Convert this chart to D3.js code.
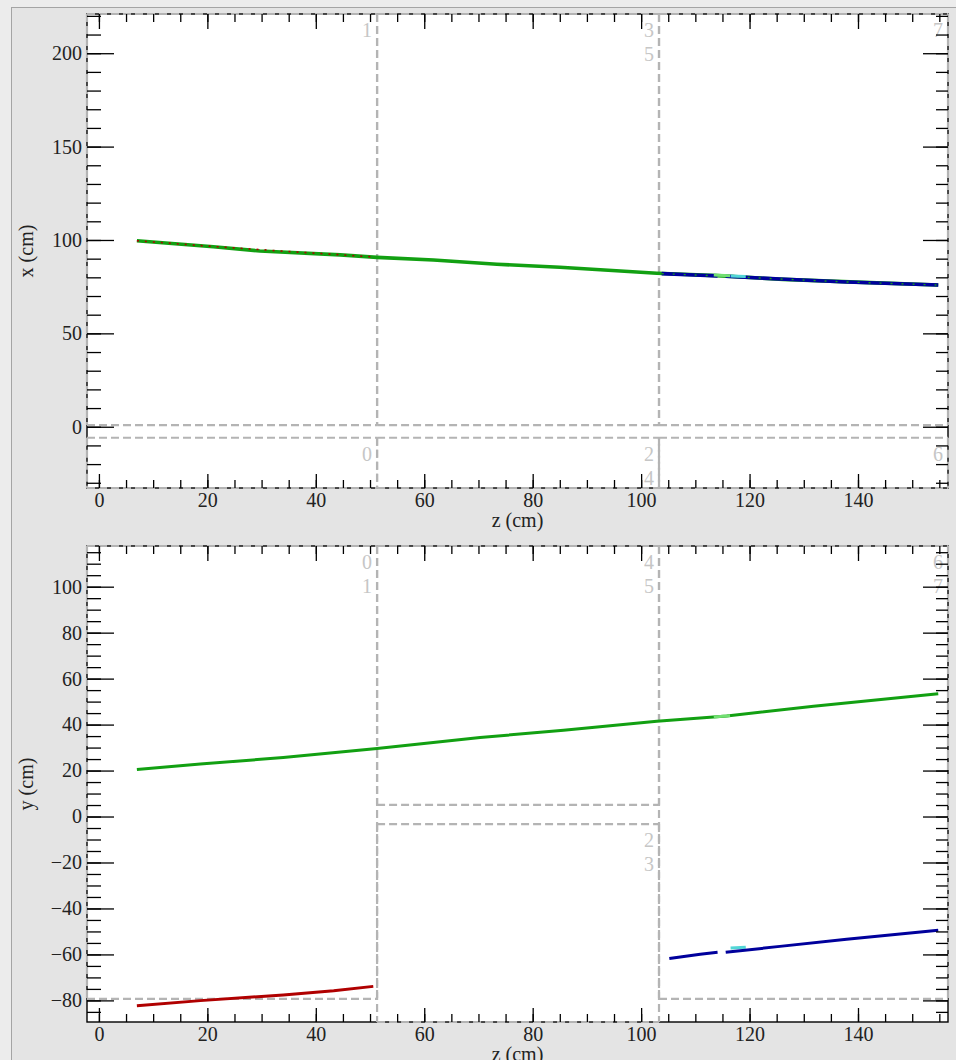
<!DOCTYPE html>
<html lang="en">
<head>
<meta charset="UTF-8">
<title>Track display</title>
<script src="https://d3js.org/d3.v7.min.js"></script>
<style>
  body { margin: 0; background: #e4e4e4; }
  svg { display: block; font-family: "Liberation Serif", "DejaVu Serif", serif; }
</style>
</head>
<body>
<svg width="956" height="1060"></svg>
<script>
// axis ranges (cm)
var zRange = [-2.2, 156.6];
var xRange = [-32.8, 221];
var yRange = [-89.4, 117.7];

// tick labels
var zMajor = [0, 20, 40, 60, 80, 100, 120, 140];
var xMajor = [0, 50, 100, 150, 200];
var yMajor = [-80, -60, -40, -20, 0, 20, 40, 60, 80, 100];

// hits, top view (x vs z)
var greenZ = [7.0, 21.1, 29.7, 44.5, 51.3, 61.7, 73.4, 85.0, 102.9, 114.0, 126.2, 141.0, 154.8];
var greenX = [99.6, 96.4, 94.1, 92.0, 90.7, 89.3, 87.0, 85.4, 82.2, 80.9, 78.9, 77.3, 75.9];
// hits, side view (y vs z)
var greenZs = [7.0, 18.7, 34.0, 51.3, 70.3, 85.7, 102.9, 115.8, 131.8, 154.8];
var greenY = [20.5, 22.8, 25.7, 29.6, 34.4, 37.5, 41.4, 43.7, 48.0, 53.4];

var redZ = [7.0, 18.7, 34.0, 43.3, 50.6];
var redX = [99.6, 97.0, 94.0, 92.3, 90.9];
var redY = [-82.3, -80.1, -77.6, -75.8, -73.9];

// top view blue starts right at the module edge
var blueZ = [103.8, 110.9, 114.1, NaN, 115.6, 125.6, 137.9, 154.8];
var blueX = [82.0, 81.1, 80.8, NaN, 80.6, 79.1, 77.5, 75.9];
var blueZs = [105.2, 110.9, 114.1, NaN, 115.6, 125.6, 137.9, 154.8];
var blueY = [-61.8, -59.9, -59.1, NaN, -59.1, -56.5, -53.4, -49.5];

var cyanZ = [116.5, 119.3];
var cyanX = [80.7, 80.4];
var cyanY = [-57.2, -56.9];

var lightZ = [113.4, 116.4];
var lightX = [81.2, 80.8];
var lightY = [43.3, 43.9];

// detector modules: z from/to, coordinate from/to, ids
var topModZ0 = [-2.2, 51.3, 103.3, -2.2, 51.3, 103.3];
var topModZ1 = [51.3, 103.3, 156.6, 51.3, 103.3, 156.6];
var topModV0 = [0.9, 0.9, 0.9, -32.8, -32.8, -32.8];
var topModV1 = [221, 221, 221, -5.9, -5.9, -5.9];
var topModIds = [["1"], ["3", "5"], ["7"], ["0"], ["2", "4"], ["6"]];

var botModZ0 = [-2.2, 51.3, 51.3, 103.3];
var botModZ1 = [51.3, 103.3, 103.3, 156.6];
var botModV0 = [-79.3, 5.1, -89.4, -79.3];
var botModV1 = [117.7, 117.7, -3.3, 117.7];
var botModIds = [["0", "1"], ["4", "5"], ["2", "3"], ["6", "7"]];

var svg = d3.select("svg");
var left = 87, right = 948;

// window frame
svg.append("rect").attr("x", 0).attr("y", 0).attr("width", 956).attr("height", 7).attr("fill", "#ececec");
svg.append("rect").attr("x", 0).attr("y", 0).attr("width", 11).attr("height", 1060).attr("fill", "#ececec");
svg.append("line").attr("x1", 11).attr("x2", 956).attr("y1", 7.5).attr("y2", 7.5).attr("stroke", "#a4a4a4");
svg.append("line").attr("x1", 11.5).attr("x2", 11.5).attr("y1", 7).attr("y2", 1060).attr("stroke", "#a4a4a4");

var zScale = d3.scaleLinear().domain(zRange).range([left, right]);

function panel(top, bottom, vRange, vMajor, vMinorStep, title, mz0, mz1, mv0, mv1, ids, tracks) {
  var v = d3.scaleLinear().domain(vRange).range([bottom, top]);
  var g = svg.append("g");

  g.append("rect").attr("x", left).attr("y", top)
    .attr("width", right - left).attr("height", bottom - top)
    .attr("fill", "white").attr("stroke", "black").attr("stroke-width", 1.4);

  // module outlines, drawn edge by edge so overlapping edges share dash phase
  var edges = [];
  mz0.forEach(function(z0, i) {
    var z1 = mz1[i], v0 = mv0[i], v1 = mv1[i];
    edges.push({x1: zScale(z0), y1: v(v1), x2: zScale(z1), y2: v(v1)});
    edges.push({x1: zScale(z0), y1: v(v0), x2: zScale(z1), y2: v(v0)});
    edges.push({x1: zScale(z0), y1: v(v1), x2: zScale(z0), y2: v(v0), seam: ids[i][0] === "6" && title === "x (cm)"});
    edges.push({x1: zScale(z1), y1: v(v1), x2: zScale(z1), y2: v(v0)});
  });
  g.selectAll(".edge").data(edges).enter().append("line")
    .attr("x1", d => d.x1).attr("y1", d => d.y1)
    .attr("x2", d => d.x2).attr("y2", d => d.y2)
    .attr("stroke", "#b4b4b4").attr("stroke-width", 2.2)
    .attr("stroke-dasharray", "8,4")
    .attr("stroke-dashoffset", d => d.seam ? 6 : 0);

  // module ids
  mz0.forEach(function(z0, i) {
    ids[i].forEach(function(id, k) {
      g.append("text").attr("x", zScale(mz1[i]) - 5).attr("y", v(mv1[i]) + 23 + 24 * k)
        .attr("text-anchor", "end").attr("fill", "#c6c6c6").attr("font-size", 20).text(id);
    });
  });

  // tracks
  tracks.forEach(function(t) {
    var line = d3.line().defined(d => !isNaN(d[0])).x(d => zScale(d[0])).y(d => v(d[1]));
    g.append("path").datum(t.z.map((z, i) => [z, t.v[i]]))
      .attr("d", line).attr("fill", "none")
      .attr("stroke", t.color).attr("stroke-width", t.width)
      .attr("stroke-dasharray", t.dash || null);
  });

  // axes, ticks pointing inwards
  function style(a) {
    a.select(".domain").remove();
    a.attr("font-family", null).attr("font-size", 20).attr("color", "black");
    a.selectAll("line").attr("stroke-width", 1.3);
    a.selectAll("text").attr("fill", "#222");
  }
  g.append("g").attr("transform", "translate(0," + bottom + ")")
    .call(d3.axisBottom(zScale).tickValues(d3.range(0, 156, 5)).tickSize(-8).tickFormat("")).call(style);
  g.append("g").attr("transform", "translate(0," + bottom + ")")
    .call(d3.axisBottom(zScale).tickValues(zMajor).tickSize(-14).tickPadding(5).tickFormat(d3.format("d"))).call(style);
  g.append("g").attr("transform", "translate(0," + top + ")")
    .call(d3.axisTop(zScale).tickValues(d3.range(0, 156, 5)).tickSize(-8).tickFormat("")).call(style);
  g.append("g").attr("transform", "translate(0," + top + ")")
    .call(d3.axisTop(zScale).tickValues(zMajor).tickSize(-15).tickFormat("")).call(style);

  var vMinor = d3.range(Math.ceil(vRange[0] / vMinorStep) * vMinorStep, vRange[1], vMinorStep);
  g.append("g").attr("transform", "translate(" + left + ",0)")
    .call(d3.axisLeft(v).tickValues(vMinor).tickSize(-14).tickFormat("")).call(style);
  g.append("g").attr("transform", "translate(" + left + ",0)")
    .call(d3.axisLeft(v).tickValues(vMajor).tickSize(-27).tickPadding(5).tickFormat(d3.format("d"))).call(style);
  g.append("g").attr("transform", "translate(" + right + ",0)")
    .call(d3.axisRight(v).tickValues(vMinor).tickSize(-12).tickFormat("")).call(style);
  g.append("g").attr("transform", "translate(" + right + ",0)")
    .call(d3.axisRight(v).tickValues(vMajor).tickSize(-25).tickFormat("")).call(style);

  g.append("text").attr("x", (left + right) / 2).attr("y", bottom + 39)
    .attr("text-anchor", "middle").attr("font-size", 20).attr("fill", "#222").text("z (cm)");
  g.append("text").attr("transform", "translate(33," + (top + bottom) / 2 + ") rotate(-90)")
    .attr("text-anchor", "middle").attr("font-size", 20).attr("fill", "#222").text(title);
}

panel(14, 488, xRange, xMajor, 10, "x (cm)", topModZ0, topModZ1, topModV0, topModV1, topModIds, [
  {z: greenZ, v: greenX, color: "#12a012", width: 3.6},
  {z: redZ, v: redX, color: "#b00000", width: 1.6, dash: "2,6"},
  {z: blueZ, v: blueX, color: "#00009c", width: 3.6},
  {z: blueZ, v: blueX, color: "#12a012", width: 1.4, dash: "2,9"},
  {z: lightZ, v: lightX, color: "#72df72", width: 3},
  {z: cyanZ, v: cyanX, color: "#52d6d6", width: 3}
]);

panel(546, 1022, yRange, yMajor, 5, "y (cm)", botModZ0, botModZ1, botModV0, botModV1, botModIds, [
  {z: greenZs, v: greenY, color: "#12a012", width: 3},
  {z: lightZ, v: lightY, color: "#72df72", width: 3},
  {z: redZ, v: redY, color: "#b00000", width: 3},
  {z: cyanZ, v: cyanY, color: "#52d6d6", width: 3},
  {z: blueZs, v: blueY, color: "#00009c", width: 3}
]);
</script>
</body>
</html>
